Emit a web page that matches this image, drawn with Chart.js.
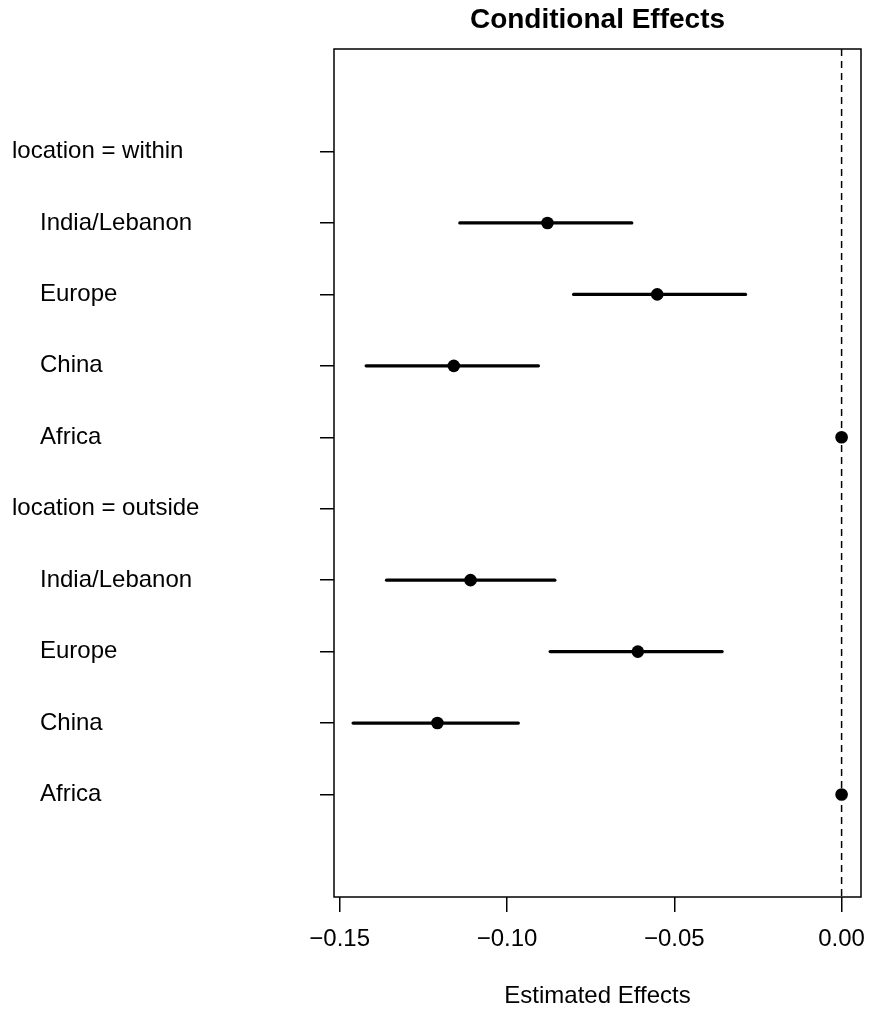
<!DOCTYPE html>
<html>
<head>
<meta charset="utf-8">
<script src="https://cdn.jsdelivr.net/npm/chart.js@4/dist/chart.umd.min.js"></script>
<style>
html,body{margin:0;padding:0;background:#fff;}
#wrap{width:870px;height:1017px;position:relative;}
</style>
</head>
<body>
<div id="wrap"><canvas id="c" width="870" height="1017"></canvas></div>
<script>
// ---- data ----
const chartTitle = "Conditional Effects";
const xAxisTitle = "Estimated Effects";
const rowLabels = ["location = within","India/Lebanon","Europe","China","Africa",
                   "location = outside","India/Lebanon","Europe","China","Africa"];
const isHeader  = [true,false,false,false,false,true,false,false,false,false];
const estimates = [null,-0.0879,-0.0551,-0.1159,0, null,-0.1109,-0.0609,-0.1208,0];
const lowerCI   = [null,-0.1141,-0.0801,-0.1421,0, null,-0.1360,-0.0871,-0.1460,0];
const upperCI   = [null,-0.0627,-0.0287,-0.0906,0, null,-0.0857,-0.0357,-0.0966,0];
const xTicks    = [-0.15,-0.10,-0.05,0.00];
const refLineX  = 0;
const xRange    = [-0.1517, 0.0058];
const yRange    = [-1.435, 10.435];

const FONT = "'Liberation Sans', Arial, Helvetica, sans-serif";
const FS = 24;

// ---- datasets ----
const datasets = [];
datasets.push({
  type:'line', data:[{x:refLineX,y:yRange[0]},{x:refLineX,y:yRange[1]}],
  borderColor:'#000', borderWidth:1.5, borderDash:[7,5], pointRadius:0, fill:false
});
rowLabels.forEach((lab,i)=>{
  if (estimates[i] === null || lowerCI[i] === upperCI[i]) return;
  datasets.push({
    type:'line', data:[{x:lowerCI[i],y:i},{x:upperCI[i],y:i}],
    borderColor:'#000', borderWidth:3.2, pointRadius:0, fill:false, borderCapStyle:'round'
  });
});
datasets.push({
  type:'scatter',
  data: estimates.map((v,i)=> v===null? null : {x:v,y:i}).filter(d=>d),
  backgroundColor:'#000', borderColor:'#000', pointRadius:6.3, pointHoverRadius:6.3, borderWidth:0
});

const framePlugin = {
  id:'frame',
  afterDraw(chart){
    const {ctx, chartArea:a, scales} = chart;
    ctx.save();
    ctx.strokeStyle='#000'; ctx.lineWidth=1.5;
    ctx.strokeRect(a.left, a.top, a.right-a.left, a.bottom-a.top);
    // y labels
    ctx.fillStyle='#000'; ctx.font = FS+'px '+FONT;
    ctx.textAlign='left'; ctx.textBaseline='middle';
    rowLabels.forEach((lab,i)=>{
      const y = scales.y.getPixelForValue(i);
      ctx.fillText(lab, isHeader[i]?12:40, y);
    });
    // title
    ctx.font = 'bold 28px '+FONT;
    ctx.textAlign='center'; ctx.textBaseline='middle';
    ctx.fillText(chartTitle, (a.left+a.right)/2, 20);
    ctx.restore();
  }
};

new Chart(document.getElementById('c'), {
  data:{datasets},
  options:{
    responsive:false, animation:false,
    layout:{padding:{top:49,right:9,left:0,bottom:0}},
    plugins:{legend:{display:false}, tooltip:{enabled:false}, title:{display:false}},
    scales:{
      x:{
        type:'linear', position:'bottom', min:xRange[0], max:xRange[1],
        afterBuildTicks(s){ s.ticks = xTicks.map(v=>({value:v})); },
        afterFit(s){ s.height = 120; s.paddingRight = 0; s.paddingLeft = 0; },
        ticks:{
          color:'#000', font:{family:FONT,size:FS}, padding:13, maxRotation:0, autoSkip:false,
          callback:(v)=> (v<0?'\u2212':'') + Math.abs(v).toFixed(2)
        },
        grid:{drawOnChartArea:false, drawTicks:true, tickLength:15, color:'#000', lineWidth:1.5},
        border:{display:false},
        title:{display:true, text:xAxisTitle, color:'#000', font:{family:FONT,size:FS}, padding:{top:0,bottom:6}}
      },
      y:{
        type:'linear', position:'left', reverse:true, min:yRange[0], max:yRange[1],
        afterBuildTicks(s){ s.ticks = rowLabels.map((l,i)=>({value:i})); },
        afterFit(s){ s.width = 334; s.paddingTop = 0; s.paddingBottom = 0; },
        ticks:{display:false},
        grid:{drawOnChartArea:false, drawTicks:true, tickLength:14, color:'#000', lineWidth:1.5},
        border:{display:false}
      }
    }
  },
  plugins:[framePlugin]
});
</script>
</body>
</html>
